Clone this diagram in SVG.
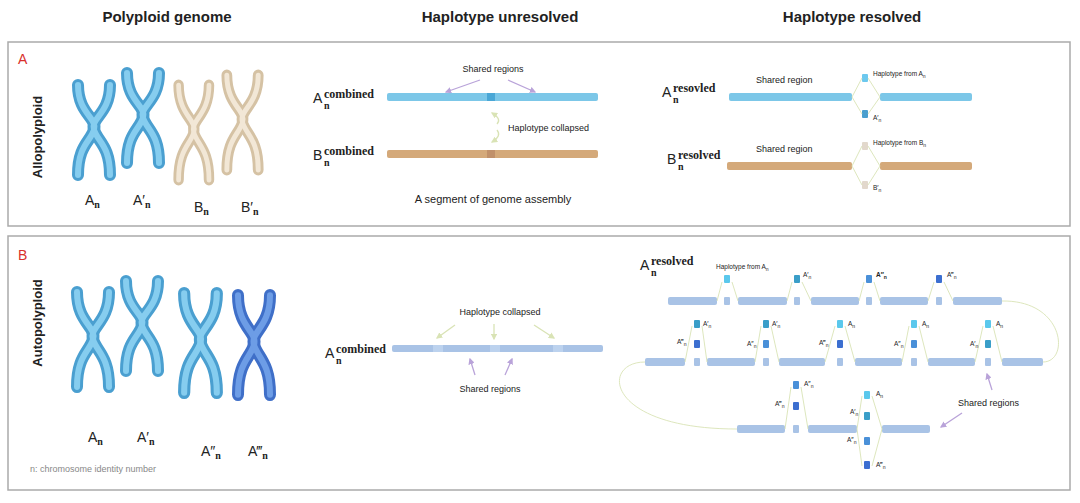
<svg xmlns="http://www.w3.org/2000/svg" xmlns:xlink="http://www.w3.org/1999/xlink" width="1080" height="503" viewBox="0 0 1080 503">
<style>
text{font-family:"Liberation Sans",Arial,sans-serif;fill:#222}
.h{font-size:15px;font-weight:bold}
.lab{font-size:14px}
.sup{font-family:"Liberation Serif",serif;font-size:12px;font-weight:bold}
.sub{font-family:"Liberation Serif",serif;font-size:10px;font-weight:bold}
.s{font-size:9px}
.t{font-size:6.5px}
.panel{fill:#fff;stroke:#aaa;stroke-width:1.5}
.ln{fill:none;stroke:#d9e3b5;stroke-width:0.9}
.pa{stroke:#b9a3d9;stroke-width:1.3;fill:none;marker-end:url(#pa)}
.ga{stroke:#d9e3b5;stroke-width:1.3;fill:none;marker-end:url(#ga)}
.bb{fill:#a9c3e6}
.q0{fill:#5bc8ec}.q1{fill:#3a9ec8}.q2{fill:#4a90d8}.q3{fill:#3c6fd0}
</style>
<defs>
<marker id="pa" viewBox="0 0 10 10" refX="8" refY="5" markerWidth="5" markerHeight="5" orient="auto"><path d="M0,0L10,5L0,10z" fill="#b9a3d9"/></marker>
<marker id="ga" viewBox="0 0 10 10" refX="8" refY="5" markerWidth="5" markerHeight="5" orient="auto"><path d="M0,0L10,5L0,10z" fill="#d9e3b5"/></marker>
<g id="chr"><path d="M8,5 C8,34 28,38 24,50 S8,66 8,95" stroke-linecap="round" fill="none"/><path d="M40,5 C40,34 20,38 24,50 S40,66 40,95" stroke-linecap="round" fill="none"/></g>
</defs>
<rect width="1080" height="503" fill="#fff"/>
<text class="h" x="167" y="22" text-anchor="middle">Polyploid genome</text>
<text class="h" x="500" y="22" text-anchor="middle">Haplotype unresolved</text>
<text class="h" x="852" y="22" text-anchor="middle">Haplotype resolved</text>
<rect class="panel" x="8" y="42" width="1062" height="184"/>
<rect class="panel" x="8" y="236" width="1062" height="254"/>
<text x="18" y="64" style="fill:#d9302c;font-size:14px">A</text>
<text x="18" y="260" style="fill:#d9302c;font-size:14px">B</text>
<text class="h" style="font-size:13px" transform="translate(42,137) rotate(-90)" text-anchor="middle">Allopolyploid</text>
<text class="h" style="font-size:13px" transform="translate(42,323) rotate(-90)" text-anchor="middle">Autopolyploid</text>

<g id="chromosomesA">
<g transform="translate(70,80)"><use xlink:href="#chr" stroke="#4a9fd0" stroke-width="12"/><use xlink:href="#chr" stroke="#86cdef" stroke-width="6"/></g>
<g transform="translate(119,68)"><use xlink:href="#chr" stroke="#4a9fd0" stroke-width="12"/><use xlink:href="#chr" stroke="#86cdef" stroke-width="6"/></g>
<g transform="translate(171,80) scale(0.95,1.05)"><use xlink:href="#chr" stroke="#d5c2a4" stroke-width="11"/><use xlink:href="#chr" stroke="#f2e7d6" stroke-width="5"/></g>
<g transform="translate(219,70) scale(0.98,1.05)"><use xlink:href="#chr" stroke="#d5c2a4" stroke-width="11"/><use xlink:href="#chr" stroke="#f2e7d6" stroke-width="5"/></g>
<text class="lab" x="85" y="205">A<tspan class="sub" dy="3">n</tspan></text>
<text class="lab" x="133" y="205">A′<tspan class="sub" dy="3">n</tspan></text>
<text class="lab" x="194" y="212">B<tspan class="sub" dy="3">n</tspan></text>
<text class="lab" x="241" y="212">B′<tspan class="sub" dy="3">n</tspan></text>
</g>
<g id="chromosomesB">
<g transform="translate(69,287) scale(1,1.05)"><use xlink:href="#chr" stroke="#4a9fd0" stroke-width="12"/><use xlink:href="#chr" stroke="#86cdef" stroke-width="6"/></g>
<g transform="translate(118,276)"><use xlink:href="#chr" stroke="#4a9fd0" stroke-width="12"/><use xlink:href="#chr" stroke="#86cdef" stroke-width="6"/></g>
<g transform="translate(176,288) scale(1.02,1.1)"><use xlink:href="#chr" stroke="#4a9fd0" stroke-width="12"/><use xlink:href="#chr" stroke="#86cdef" stroke-width="6"/></g>
<g transform="translate(230,290) scale(1,1.1)"><use xlink:href="#chr" stroke="#3f6fc8" stroke-width="12"/><use xlink:href="#chr" stroke="#6d9de6" stroke-width="6"/></g>
<text class="lab" x="88" y="442">A<tspan class="sub" dy="3">n</tspan></text>
<text class="lab" x="137" y="442">A′<tspan class="sub" dy="3">n</tspan></text>
<text class="lab" x="201" y="456">A″<tspan class="sub" dy="3">n</tspan></text>
<text class="lab" x="248" y="456">A‴<tspan class="sub" dy="3">n</tspan></text>
<text x="30" y="472" style="font-size:9px;fill:#888">n: chromosome identity number</text>
</g>

<g id="unresolvedA">
<text class="lab" x="313" y="103">A</text><text class="sup" x="324" y="98">combined</text><text class="sub" x="324" y="109">n</text>
<rect x="387" y="93" width="211" height="8" rx="2" fill="#7cc7e8"/><rect x="487" y="93" width="8" height="8" fill="#4aa7d6"/>
<text class="lab" x="313" y="160">B</text><text class="sup" x="324" y="155">combined</text><text class="sub" x="324" y="166">n</text>
<rect x="387" y="150" width="211" height="8" rx="2" fill="#d4a97a"/><rect x="487" y="150" width="8" height="8" fill="#c0906a"/>
<text class="s" x="493" y="72" text-anchor="middle">Shared regions</text>
<text class="s" x="508" y="131">Haplotype collapsed</text>
<text x="493" y="203" text-anchor="middle" style="font-size:11px">A segment of genome assembly</text>
</g>
<g id="resolvedA">
<text class="lab" x="662" y="97">A</text><text class="sup" x="673" y="92">resovled</text><text class="sub" x="673" y="103">n</text>
<rect x="729" y="93" width="123" height="8" rx="2" fill="#7cc7e8"/><rect x="880" y="93" width="92" height="8" rx="2" fill="#7cc7e8"/>
<rect x="862" y="74" width="6" height="8" rx="1" fill="#6cc8ee"/><rect x="862" y="110" width="6" height="8" rx="1" fill="#4a9fcf"/>
<text class="s" x="756" y="83">Shared region</text>
<text class="t" x="873" y="76">Haplotype from A<tspan dy="2" font-size="5">n</tspan></text>
<text class="t" x="873" y="120">A′<tspan dy="2" font-size="5">n</tspan></text>
<text class="lab" x="667" y="164">B</text><text class="sup" x="678" y="159">resolved</text><text class="sub" x="678" y="170">n</text>
<rect x="727" y="162" width="125" height="8" rx="2" fill="#d4a97a"/><rect x="880" y="162" width="92" height="8" rx="2" fill="#d4a97a"/>
<rect x="862" y="142" width="6" height="8" rx="1" fill="#e2d8cc"/><rect x="862" y="181" width="6" height="8" rx="1" fill="#e2d8cc"/>
<text class="s" x="756" y="152">Shared region</text>
<text class="t" x="873" y="145">Haplotype from B<tspan dy="2" font-size="5">n</tspan></text>
<text class="t" x="873" y="190">B′<tspan dy="2" font-size="5">n</tspan></text>
</g>

<g id="unresolvedB">
<text class="lab" x="325" y="358">A</text><text class="sup" x="336" y="353">combined</text><text class="sub" x="336" y="364">n</text>
<rect x="392" y="345" width="211" height="7" rx="2" class="bb"/>
<rect x="433" y="345" width="10" height="7" fill="#bcd2ee"/><rect x="490" y="345" width="10" height="7" fill="#bcd2ee"/><rect x="553" y="345" width="10" height="7" fill="#bcd2ee"/>
<text class="s" x="500" y="315" text-anchor="middle">Haplotype collapsed</text>
<text class="s" x="490" y="392" text-anchor="middle">Shared regions</text>
</g>

<g id="resolvedB">
<text class="lab" x="640" y="270">A</text><text class="sup" x="651" y="265">resolved</text><text class="sub" x="651" y="276">n</text>
<g class="bb"><rect x="668" y="297" width="49" height="8" rx="2"/><rect x="724" y="297" width="6" height="8" rx="1"/><rect x="738" y="297" width="49" height="8" rx="2"/><rect x="794" y="297" width="6" height="8" rx="1"/><rect x="811" y="297" width="48" height="8" rx="2"/><rect x="866" y="297" width="6" height="8" rx="1"/><rect x="880" y="297" width="48" height="8" rx="2"/><rect x="936" y="297" width="6" height="8" rx="1"/><rect x="953" y="297" width="49" height="8" rx="2"/></g>
<rect class="q0" x="724" y="275" width="6" height="8" rx="1"/><rect class="q1" x="794" y="275" width="6" height="8" rx="1"/><rect class="q2" x="866" y="275" width="6" height="8" rx="1"/><rect class="q3" x="936" y="275" width="6" height="8" rx="1"/>
<path class="ln" d="M717,301L722,282M732,282L738,301M787,301L792,282M802,282L811,301M859,301L864,282M874,282L880,301M928,301L934,282M944,282L953,301"/>
<text class="t" x="716" y="269">Haplotype from A<tspan dy="2" font-size="5">n</tspan></text>
<text class="t" x="803" y="277">A′<tspan dy="2" font-size="5">n</tspan></text>
<text class="t" x="876" y="277" font-weight="bold">A″<tspan dy="2" font-size="5">n</tspan></text>
<text class="t" x="947" y="277">A‴<tspan dy="2" font-size="5">n</tspan></text>
<g class="bb"><rect x="645" y="358" width="40" height="8" rx="2"/><rect x="694" y="358" width="6" height="8" rx="1"/><rect x="707" y="358" width="48" height="8" rx="2"/><rect x="763" y="358" width="6" height="8" rx="1"/><rect x="779" y="358" width="46" height="8" rx="2"/><rect x="837" y="358" width="6" height="8" rx="1"/><rect x="855" y="358" width="47" height="8" rx="2"/><rect x="911" y="358" width="6" height="8" rx="1"/><rect x="928" y="358" width="47" height="8" rx="2"/><rect x="985" y="358" width="6" height="8" rx="1"/><rect x="1002" y="358" width="41" height="8" rx="2"/></g>
<rect class="q1" x="694" y="320" width="6" height="8" rx="1"/><rect class="q3" x="694" y="340" width="6" height="8" rx="1"/>
<rect class="q1" x="763" y="320" width="6" height="8" rx="1"/><rect class="q2" x="763" y="340" width="6" height="8" rx="1"/>
<rect class="q0" x="837" y="320" width="6" height="8" rx="1"/><rect class="q3" x="837" y="340" width="6" height="8" rx="1"/>
<rect class="q0" x="911" y="320" width="6" height="8" rx="1"/><rect class="q2" x="911" y="340" width="6" height="8" rx="1"/>
<rect class="q0" x="985" y="320" width="6" height="8" rx="1"/><rect class="q1" x="985" y="340" width="6" height="8" rx="1"/>
<path class="ln" d="M685,362L692,326M702,326L707,362M755,362L761,326M771,326L779,362M825,362L835,326M845,326L855,362M902,362L909,326M919,326L928,362M975,362L983,326M993,326L1002,362"/>
<text class="t" x="703" y="326">A′<tspan dy="2" font-size="5">n</tspan></text><text class="t" x="677" y="344">A‴<tspan dy="2" font-size="5">n</tspan></text>
<text class="t" x="772" y="326">A′<tspan dy="2" font-size="5">n</tspan></text><text class="t" x="747" y="346">A″<tspan dy="2" font-size="5">n</tspan></text>
<text class="t" x="848" y="326">A<tspan dy="2" font-size="5">n</tspan></text><text class="t" x="819" y="345">A‴<tspan dy="2" font-size="5">n</tspan></text>
<text class="t" x="922" y="326">A<tspan dy="2" font-size="5">n</tspan></text><text class="t" x="894" y="346">A″<tspan dy="2" font-size="5">n</tspan></text>
<text class="t" x="996" y="326">A<tspan dy="2" font-size="5">n</tspan></text><text class="t" x="970" y="346">A′<tspan dy="2" font-size="5">n</tspan></text>
<g class="bb"><rect x="737" y="425" width="48" height="8" rx="2"/><rect x="793" y="425" width="6" height="8" rx="1"/><rect x="808" y="425" width="49" height="8" rx="2"/><rect x="882" y="425" width="48" height="8" rx="2"/></g>
<rect class="q2" x="793" y="381" width="6" height="8" rx="1"/><rect class="q3" x="793" y="402" width="6" height="8" rx="1"/>
<rect class="q0" x="864" y="391" width="6" height="8" rx="1"/><rect class="q1" x="864" y="412" width="6" height="8" rx="1"/><rect class="q2" x="864" y="437" width="6" height="8" rx="1"/><rect class="q3" x="864" y="461" width="6" height="8" rx="1"/>
<path class="ln" d="M785,429L791,387M801,387L808,429M857,429L862,396M872,396L882,429M857,429L862,466M872,466L882,429"/>
<text class="t" x="804" y="386">A″<tspan dy="2" font-size="5">n</tspan></text><text class="t" x="775" y="406">A‴<tspan dy="2" font-size="5">n</tspan></text>
<text class="t" x="876" y="396">A<tspan dy="2" font-size="5">n</tspan></text><text class="t" x="850" y="414">A′<tspan dy="2" font-size="5">n</tspan></text>
<text class="t" x="847" y="442">A″<tspan dy="2" font-size="5">n</tspan></text><text class="t" x="876" y="467">A‴<tspan dy="2" font-size="5">n</tspan></text>
<text class="s" x="958" y="406">Shared regions</text>
</g>

<g id="connectors">
<path class="pa" d="M480,80L446,92"/><path class="pa" d="M508,80L535,92"/>
<path class="ga" d="M497,124Q502,119 492,113"/><path class="ga" d="M497,130Q502,136 492,142"/>
<path class="ln" d="M852,97L862,78M868,78L880,97M852,97L862,114M868,114L880,97"/>
<path class="ln" d="M852,166L862,146M868,146L880,166M852,166L862,185M868,185L880,166"/>
<path class="ga" d="M455,325L437,338"/><path class="ga" d="M494,324L494,339"/><path class="ga" d="M534,325L554,338"/>
<path class="pa" d="M475,375L470,359"/><path class="pa" d="M505,375L512,359"/>
<path class="ln" d="M1002,301C1065,300 1070,362 1043,362"/>
<path class="ln" d="M645,362C600,362 605,429 737,429"/>
<path class="pa" d="M992,390L987,374"/><path class="pa" d="M962,413L941,427"/>
</g>
</svg>
